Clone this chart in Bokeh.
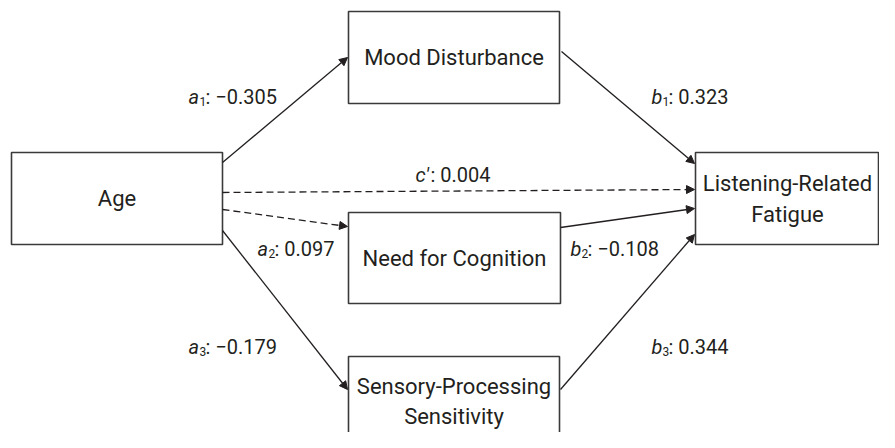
from bokeh.plotting import figure
from bokeh.models import Arrow, NormalHead, ColumnDataSource, Range1d
from bokeh.core.properties import value
from bokeh.embed import file_html
from bokeh.resources import INLINE

# ---- data ----
node_names = ["Age", "Mood Disturbance", "Need for Cognition",
              "Sensory-Processing\nSensitivity", "Listening-Related\nFatigue"]
path_letters = ["a", "b", "c′", "a", "b", "a", "b"]
path_subs = ["1", "1", "", "2", "2", "3", "3"]
path_values = ["−0.305", "0.323", "0.004", "0.097", "−0.108", "−0.179", "0.344"]
path_dashed = [False, False, True, True, False, False, False]

# ---- layout (pixel coordinates of the diagram) ----
FONT = "Roboto"
INK = "#231f20"
BOX = "#3a3a3a"

box_left = [11, 348, 348, 348, 695]
box_right = [222, 559, 560, 559, 878]
box_top = [152, 11, 212, 356, 152]
box_bottom = [244, 103, 303, 470, 244]
box_cx = [116.5, 453.5, 454, 453.5, 787]
box_baselines = [[198], [57], [258], [386], [183, 214]]
box_baselines[3].append(416)

arrow_x0 = [222, 561, 222, 222, 560, 222, 560]
arrow_y0 = [162, 51, 192, 209, 227, 230, 389]
arrow_x1 = [347, 694, 694, 347, 694, 347, 694]
arrow_y1 = [57, 163, 189, 226, 208, 389, 234]

label_x = [188, 651, 415, 257, 570, 188, 651]
label_y = [96, 96, 174, 248, 248, 346, 346]

p = figure(width=879, height=432, x_range=Range1d(0, 879), y_range=Range1d(432, 0),
           output_backend="svg", toolbar_location=None, min_border=0)
p.axis.visible = False
p.grid.visible = False
p.outline_line_color = None
p.background_fill_color = "white"

p.quad(left=box_left, right=box_right, top=box_top, bottom=box_bottom,
       fill_color="white", line_color=BOX, line_width=1.6)

tx, ty, tt = [], [], []
for name, cx, bls in zip(node_names, box_cx, box_baselines):
    for line, bl in zip(name.split("\n"), bls):
        tx.append(cx); ty.append(bl); tt.append(line)
p.text(x=tx, y=ty, text=tt, text_font=value(FONT), text_font_size="22px",
       text_align="center", text_baseline="alphabetic", text_color=INK)

for dashed in (False, True):
    idx = [i for i in range(len(path_values)) if path_dashed[i] == dashed]
    src = ColumnDataSource(dict(x0=[arrow_x0[i] for i in idx], y0=[arrow_y0[i] for i in idx],
                                x1=[arrow_x1[i] for i in idx], y1=[arrow_y1[i] for i in idx]))
    p.add_layout(Arrow(end=NormalHead(size=8, fill_color=INK, line_color=INK, line_width=1),
                       x_start="x0", y_start="y0", x_end="x1", y_end="y1", source=src,
                       line_color=INK, line_width=1.3,
                       line_dash="7 4" if dashed else "solid"))

# labels: italic letter, subscript, then value
lx, ly, lt = [], [], []
sx, sy, st = [], [], []
vx, vy, vt = [], [], []
for let, sub, val, x, y in zip(path_letters, path_subs, path_values, label_x, label_y):
    lx.append(x); ly.append(y); lt.append(let)
    w = 11 if len(let) == 1 else 15
    if sub:
        sx.append(x + w); sy.append(y + 5); st.append(sub)
        vx.append(x + w + 6); vy.append(y); vt.append(": " + val)
    else:
        vx.append(x + w); vy.append(y); vt.append(": " + val)

p.text(x=lx, y=ly, text=lt, text_font=value(FONT), text_font_size="20px",
       text_font_style="italic", text_align="left", text_baseline="alphabetic", text_color=INK)
p.text(x=sx, y=sy, text=st, text_font=value(FONT), text_font_size="12px",
       text_align="left", text_baseline="alphabetic", text_color=INK)
p.text(x=vx, y=vy, text=vt, text_font=value(FONT), text_font_size="20px",
       text_align="left", text_baseline="alphabetic", text_color=INK)

open("out.html", "w").write(file_html(p, INLINE))
